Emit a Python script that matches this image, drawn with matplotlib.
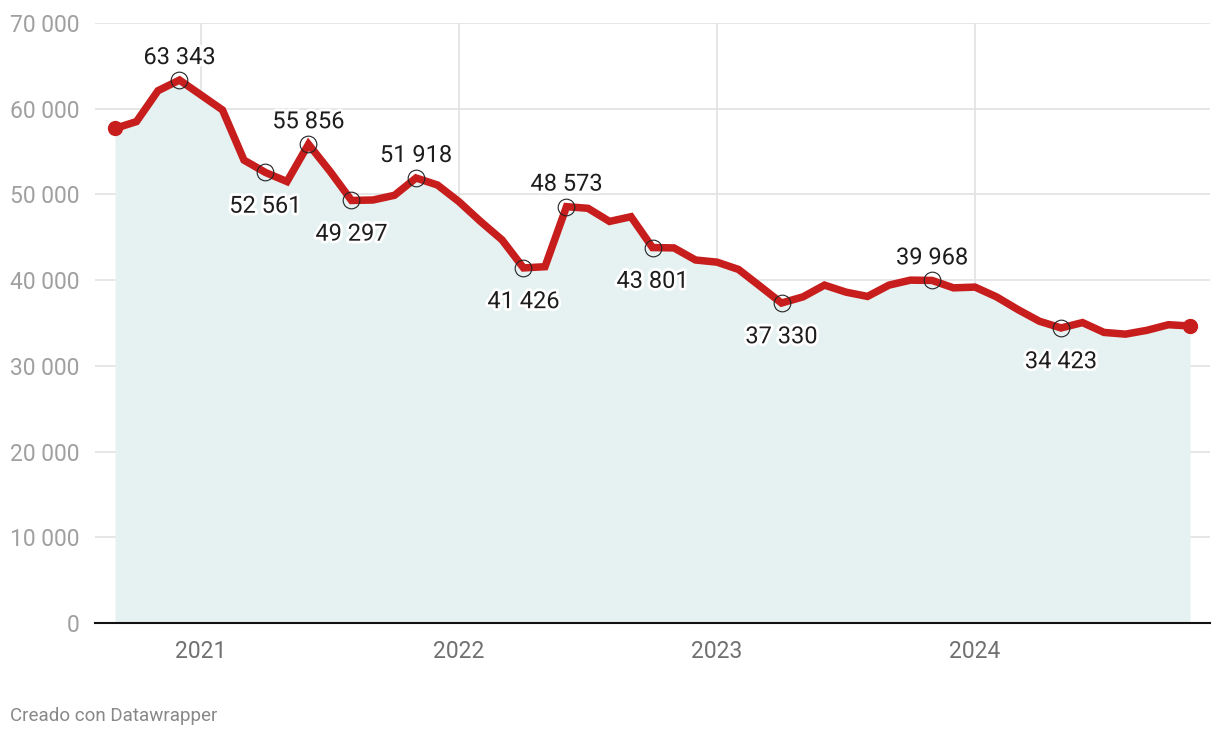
import matplotlib
matplotlib.use("Agg")
import matplotlib.pyplot as plt
import matplotlib.patheffects as pe
import numpy as np

plt.rcParams['font.family'] = ['Roboto', 'DejaVu Sans']

# Monthly values, Sep 2020 .. Nov 2024
values = [57700, 58500, 62100, 63343, 61600, 59850, 54000, 52561, 51500, 55856,
          52700, 49297, 49350, 49900, 51918, 51100, 49150, 46850, 44700, 41426,
          41570, 48573, 48380, 46850, 47400, 43801, 43760, 42350, 42100, 41250,
          39300, 37330, 38050, 39420, 38600, 38100, 39420, 40000, 39968, 39100,
          39190, 38050, 36560, 35200, 34423, 35050, 33900, 33700, 34150, 34800,
          34650]
year_tick_idx = [4, 16, 28, 40]
year_labels = ["2021", "2022", "2023", "2024"]
yticks = [0, 10000, 20000, 30000, 40000, 50000, 60000, 70000]
ytick_labels = ["0", "10 000", "20 000", "30 000", "40 000", "50 000", "60 000", "70 000"]
labels_above = [3, 9, 14, 21, 38]
labels_below = [7, 11, 19, 25, 31, 44]

x = np.arange(len(values))

fig = plt.figure(figsize=(12.2, 7.4), dpi=100)
ax = fig.add_axes([95/1220, 1 - 623/740, (1210 - 95)/1220, 600/740])

ax.set_xlim(-0.93, 50.93)
ax.set_ylim(0, 70000)

ax.fill_between(x, values, 0, color='#e6f2f2', zorder=1, linewidth=0)
ax.plot(x, values, color='#c71e1d', linewidth=5.4, solid_joinstyle='miter',
        solid_capstyle='round', zorder=3)
ax.plot([x[0], x[-1]], [values[0], values[-1]], 'o', color='#c71e1d',
        markersize=10, zorder=4)

def fmt(v):
    return f"{v:,}".replace(",", " ")

halo = [pe.withStroke(linewidth=4, foreground='white')]
for i in labels_above + labels_below:
    ax.plot(x[i], values[i], 'o', markersize=12, markerfacecolor='none',
            markeredgecolor='#222222', markeredgewidth=0.8, zorder=5)
    off = 18 if i in labels_above else -22.5
    ax.annotate(fmt(values[i]), (x[i], values[i]), xytext=(0, off),
                textcoords='offset points', ha='center', va='center_baseline',
                fontsize=17, color='#1d1d1d', zorder=6, path_effects=halo)

ax.set_yticks(yticks)
ax.set_yticklabels(ytick_labels, fontsize=16.5, color='#a0a0a0')
ax.set_xticks(year_tick_idx)
ax.set_xticklabels(year_labels, fontsize=16.5, color='#707070')
ax.tick_params(axis='both', length=0)
ax.tick_params(axis='y', pad=11)
ax.tick_params(axis='x', pad=12)

ax.grid(axis='y', color='#e2e2e2', linewidth=1.2, zorder=0)
ax.grid(axis='x', color='#e2e2e2', linewidth=1.2, zorder=0)
ax.set_axisbelow(True)
for s in ['top', 'right', 'left']:
    ax.spines[s].set_visible(False)
ax.spines['bottom'].set_color('#111111')
ax.spines['bottom'].set_linewidth(1.5)
ax.spines['bottom'].set_zorder(7)

fig.text(10/1220, 1 - 716/740, "Creado con Datawrapper", fontsize=13.5,
         color='#888888', ha='left', va='center')

fig.savefig("out.png", dpi=100)
